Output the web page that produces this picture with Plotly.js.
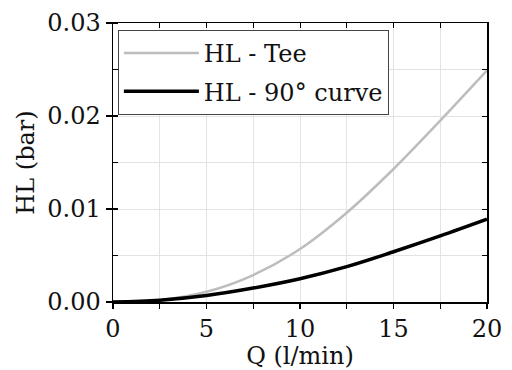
<!DOCTYPE html>
<html><head><meta charset="utf-8">
<script src="https://cdn.plot.ly/plotly-3.0.1.min.js"></script>
<style>html,body{margin:0;padding:0;background:#fff}#chart{width:512px;height:370px}</style>
</head><body><div id="chart"></div>
<script>
var flowQ = [0, 2.5, 5, 7.5, 10, 12.5, 15, 17.5, 20];
var hlTee = [0, 0.0002, 0.0011, 0.0029, 0.0057, 0.0096, 0.0143, 0.0195, 0.0249];
var hlCurve = [0, 0.0002, 0.0007, 0.0015, 0.0025, 0.0038, 0.0054, 0.0071, 0.0089];
var seriesNames = ['HL - Tee', 'HL - 90° curve'];
var xTickVals = [0, 5, 10, 15, 20];
var yTickVals = [0, 0.01, 0.02, 0.03];
var yTickText = ['0.00', '0.01', '0.02', '0.03'];

var serif = 'DejaVu Serif';
var traces = [
  {x: flowQ, y: hlTee, name: seriesNames[0], legendgroup: 'a', mode: 'lines', line: {color: '#bdbdbd', width: 2.5, shape: 'spline', smoothing: 1}, hoverinfo: 'skip'},
  {x: flowQ, y: hlCurve, name: seriesNames[1], legendgroup: 'b', mode: 'lines', xaxis: 'x2', yaxis: 'y2', line: {color: '#000000', width: 3.5, shape: 'spline', smoothing: 1}, hoverinfo: 'skip'}
];
var layout = {
  width: 512, height: 370,
  margin: {l: 113, r: 25, t: 23, b: 68},
  paper_bgcolor: '#ffffff', plot_bgcolor: '#ffffff',
  font: {family: serif, size: 23, color: '#111'},
  showlegend: true,
  legend: {x: 0.013, y: 0.975, xanchor: 'left', yanchor: 'top', bordercolor: '#444', borderwidth: 1, bgcolor: '#ffffff',
           font: {family: serif, size: 24, color: '#111'}, itemwidth: 75, tracegroupgap: 4},
  xaxis: {range: [0, 20], tickvals: xTickVals, ticktext: xTickVals.map(String), ticks: 'outside', ticklen: 5, tickwidth: 1.2, tickcolor: '#000',
          showline: true, linecolor: '#000', linewidth: 1.5, mirror: true, zeroline: false,
          showgrid: true, gridcolor: '#e3e3e3', gridwidth: 1,
          minor: {dtick: 2.5, tick0: 0, ticks: 'outside', ticklen: 5, tickcolor: '#000', showgrid: true, gridcolor: '#e3e3e3'},
          tickfont: {family: serif, size: 24, color: '#111'},
          title: {text: 'Q (l/min)', font: {family: serif, size: 24, color: '#111'}, standoff: 0}},
  yaxis: {range: [0, 0.03], tickvals: yTickVals, ticktext: yTickText, ticks: 'outside', ticklen: 6, tickwidth: 1.2, tickcolor: '#000',
          showline: true, linecolor: '#000', linewidth: 1.5, mirror: true, zeroline: false,
          showgrid: true, gridcolor: '#e3e3e3', gridwidth: 1,
          minor: {dtick: 0.005, tick0: 0, ticks: 'inside', ticklen: 5, tickcolor: '#000', showgrid: true, gridcolor: '#e3e3e3'},
          tickfont: {family: serif, size: 24, color: '#111'},
          title: {text: 'HL (bar)', font: {family: serif, size: 24, color: '#111'}, standoff: 6}},
  xaxis2: {overlaying: 'x', side: 'top', anchor: 'y2', range: [0, 20], dtick: 2.5, tick0: 0, ticks: 'inside', ticklen: 5, tickcolor: '#000',
           showticklabels: false, showgrid: false, zeroline: false, showline: false},
  yaxis2: {overlaying: 'y', side: 'right', anchor: 'x2', range: [0, 0.03], dtick: 0.005, tick0: 0, ticks: 'inside', ticklen: 5, tickcolor: '#000',
           showticklabels: false, showgrid: false, zeroline: false, showline: false}
};
Plotly.newPlot('chart', traces, layout, {staticPlot: true, displayModeBar: false});
</script></body></html>
